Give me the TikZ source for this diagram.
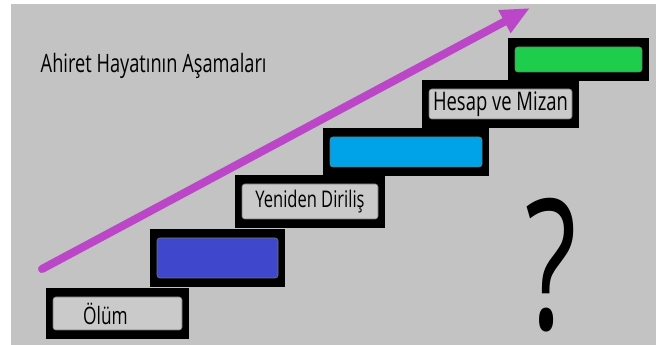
\documentclass[tikz,border=0pt]{standalone}
\usepackage{fontspec}
\setmainfont{Open Sans}
\newfontfamily\stepfont[FakeStretch=0.72]{Open Sans}
\newfontfamily\markfont[FakeStretch=0.66]{Open Sans}
\usepackage{tikz}
\usetikzlibrary{arrows.meta,positioning,fit,backgrounds}
\definecolor{slate}{RGB}{195,195,195}
\definecolor{plategray}{RGB}{202,202,202}
\definecolor{deepblue}{RGB}{63,72,204}
\definecolor{skyblue}{RGB}{0,162,232}
\definecolor{brightgreen}{RGB}{30,205,75}
\definecolor{orchid}{RGB}{187,71,200}

\begin{document}
\begin{tikzpicture}[x=0.75pt,y=-0.75pt]
  % stairs of the afterlife, one unit = one pixel of the sketch
  \tikzset{plate/.style={fill=plategray,draw=black!55,line width=0.4pt,rounded corners=2pt,inner sep=0pt},
           frame/.style={fill=black,inner xsep=4.9pt,inner ysep=6.4pt,fit=#1},
           lbl/.style={font=\stepfont\fontsize{#1}{#1}\selectfont}}
  \node[plate,lbl=18,minimum width=96.75pt,minimum height=24.75pt] (olum) at (117.5,313.5) {Ölüm\hspace*{18pt}};
  \node[plate,fill=deepblue,minimum width=90.75pt,minimum height=30pt] (dirilis-pre) at (217.5,258) {};
  \node[plate,lbl=17.2,minimum width=102pt,minimum height=26.25pt] (dirilis) at (310,201.5) {Yeniden Diriliş};
  \node[plate,fill=skyblue,minimum width=114pt,minimum height=22.5pt] (hesap-pre) at (406,152) {};
  \node[plate,lbl=19.2,minimum width=107.25pt,minimum height=22.5pt] (hesap) at (500.5,104) {Hesap ve Mizan};
  \node[plate,fill=brightgreen,minimum width=95.25pt,minimum height=18.75pt] (son) at (578.5,59.5) {};
  \begin{scope}[on background layer]
    \fill[white] (0,0) rectangle (661,345);
    \fill[slate] (11,4) rectangle (656,345);
    \foreach \s in {olum,dirilis-pre,dirilis,hesap-pre,hesap,son}
      \node[frame=(\s)] (\s-f) {};
  \end{scope}
  \node[lbl=19,anchor=base west] (title) at (36,73) {Ahiret Hayatının Aşamaları};
  \node[font=\markfont\fontsize{136}{136}\selectfont,anchor=base,inner sep=0pt] (query) at (551,330) {?};
  \coordinate (rise-start) at (42,269);
  \coordinate (rise-end) at (530,8);
  \draw[orchid,line width=6pt,line cap=round,-{Triangle[length=21.75pt,width=18pt]}] (rise-start) -- (rise-end);
\end{tikzpicture}
\end{document}
